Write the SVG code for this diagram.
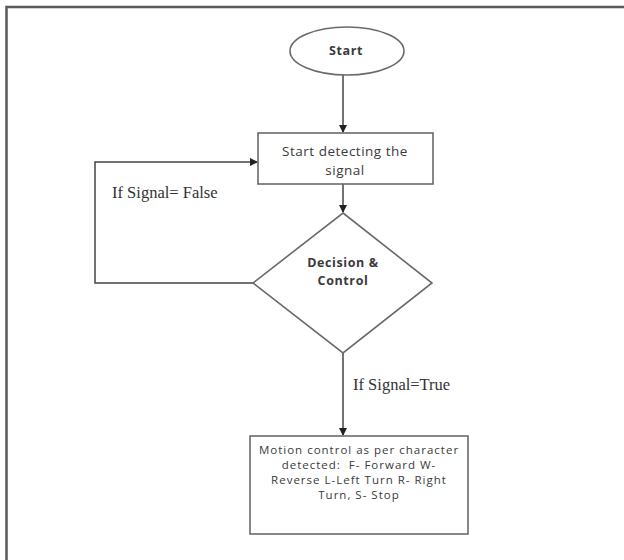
<svg xmlns="http://www.w3.org/2000/svg" width="624" height="560" viewBox="0 0 624 560">
<defs>
<marker id="arr" markerWidth="8" markerHeight="8" refX="7" refY="4" orient="auto" markerUnits="userSpaceOnUse">
<path d="M0,0 L8,4 L0,8 z" fill="#222"/>
</marker>
<style>
.shape{fill:#fff;stroke:#6a6a6a;stroke-width:1.6}
.conn{fill:none;stroke:#444;stroke-width:1.5}
.t{font-family:"Open Sans","Liberation Sans",sans-serif;font-size:13px;letter-spacing:0.5px;fill:#3a3a3a;text-anchor:middle}
.m{font-size:11.5px;letter-spacing:1px}
.b{font-weight:bold;font-size:12.5px;letter-spacing:0.6px}
.s{font-family:"Liberation Serif",serif;font-size:16.5px;fill:#333}
</style>
</defs>
<rect width="624" height="560" fill="#fff"/>
<path d="M6.5,580 L6.5,7 L640,7" fill="none" stroke="#5a5a5a" stroke-width="2.5"/>
<g id="connectors">
<path class="conn" d="M343,75 L343,132" marker-end="url(#arr)"/>
<path class="conn" d="M343,184 L343,212" marker-end="url(#arr)"/>
<path class="conn" d="M253,283 L95,283 L95,162 L257,162" marker-end="url(#arr)"/>
<path class="conn" d="M343,353 L343,435" marker-end="url(#arr)"/>
<text class="s" x="112" y="198">If Signal= False</text>
<text class="s" x="353" y="390">If Signal=True</text>
</g>
<g id="start">
<ellipse class="shape" cx="347" cy="51" rx="57" ry="24"/>
<text class="t b" x="346" y="55">Start</text>
</g>
<g id="detect">
<rect class="shape" x="258" y="133" width="175" height="51"/>
<text class="t" x="345" y="156" style="font-size:13.5px">Start detecting the</text>
<text class="t" x="345" y="175" style="font-size:13.5px">signal</text>
</g>
<g id="decision">
<polygon class="shape" points="343,213 432,283 343,353 253,283"/>
<text class="t b" x="343" y="267">Decision &amp;</text>
<text class="t b" x="343" y="285">Control</text>
</g>
<g id="motion">
<rect class="shape" x="250" y="436" width="218" height="98"/>
<text class="t m" x="359" y="454">Motion control as per character</text>
<text class="t m" x="359" y="469" xml:space="preserve">detected:  F- Forward W-</text>
<text class="t m" x="359" y="484">Reverse L-Left Turn R- Right</text>
<text class="t m" x="359" y="499">Turn, S- Stop</text>
</g>
</svg>
